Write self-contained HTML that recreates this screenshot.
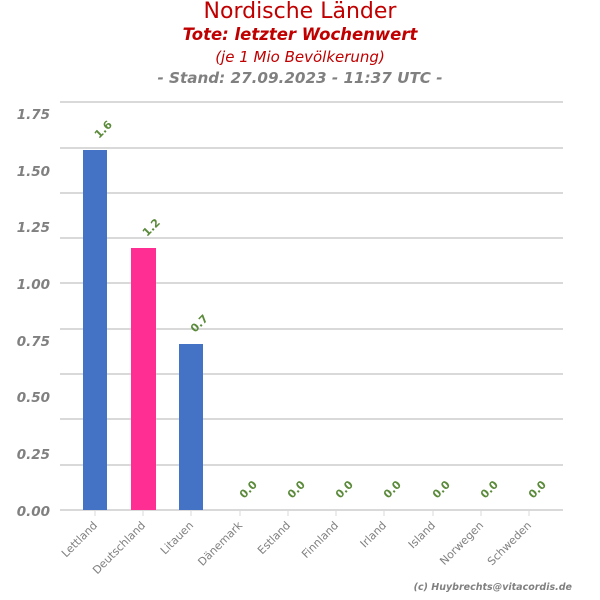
<!DOCTYPE html>
<html><head><meta charset="utf-8"><style>body{margin:0;background:#fff}svg{display:block}</style></head><body>
<svg width="600" height="600" xmlns="http://www.w3.org/2000/svg" font-family="DejaVu Sans, Liberation Sans, sans-serif">
<text x="300" y="18" text-anchor="middle" font-size="22" fill="#c00000">Nordische Länder</text>
<text x="300" y="40" text-anchor="middle" font-size="16.5" font-weight="bold" font-style="italic" fill="#c00000">Tote: letzter Wochenwert</text>
<text x="300" y="62" text-anchor="middle" font-size="15" font-style="italic" fill="#c00000">(je 1 Mio Bevölkerung)</text>
<text x="300" y="83" text-anchor="middle" font-size="15.2" font-weight="bold" font-style="italic" fill="#808080">- Stand: 27.09.2023 - 11:37 UTC -</text>
<g stroke="#d9d9d9" stroke-width="2">
<line x1="60" x2="563" y1="102" y2="102"/><line x1="60" x2="563" y1="148" y2="148"/><line x1="60" x2="563" y1="193" y2="193"/><line x1="60" x2="563" y1="238" y2="238"/><line x1="60" x2="563" y1="283" y2="283"/><line x1="60" x2="563" y1="329" y2="329"/><line x1="60" x2="563" y1="374" y2="374"/><line x1="60" x2="563" y1="419" y2="419"/><line x1="60" x2="563" y1="465" y2="465"/><line x1="60" x2="563" y1="510" y2="510"/>
</g>
<g font-size="13.5" font-weight="bold" font-style="italic" fill="#808080" text-anchor="end">
<text x="50" y="119">1.75</text><text x="50" y="176">1.50</text><text x="50" y="232">1.25</text><text x="50" y="289">1.00</text><text x="50" y="346">0.75</text><text x="50" y="402">0.50</text><text x="50" y="459">0.25</text><text x="50" y="516">0.00</text>
</g>
<rect x="83" y="150" width="24" height="360" fill="#4472c4"/>
<rect x="131" y="248" width="25" height="262" fill="#ff2e93"/>
<rect x="179" y="344" width="24" height="166" fill="#4472c4"/>
<g stroke="#d9d9d9" stroke-width="1">
<line x1="95" x2="95" y1="510" y2="516"/><line x1="143" x2="143" y1="510" y2="516"/><line x1="191" x2="191" y1="510" y2="516"/><line x1="240" x2="240" y1="510" y2="516"/><line x1="288" x2="288" y1="510" y2="516"/><line x1="336" x2="336" y1="510" y2="516"/><line x1="384" x2="384" y1="510" y2="516"/><line x1="433" x2="433" y1="510" y2="516"/><line x1="481" x2="481" y1="510" y2="516"/><line x1="529" x2="529" y1="510" y2="516"/>
</g>
<g font-size="11" font-weight="bold" fill="#5a8a3a">
<text transform="translate(99,139) rotate(-45)">1.6</text>
<text transform="translate(147,237) rotate(-45)">1.2</text>
<text transform="translate(195,333) rotate(-45)">0.7</text>
<text transform="translate(244,499) rotate(-45)">0.0</text>
<text transform="translate(292,499) rotate(-45)">0.0</text>
<text transform="translate(340,499) rotate(-45)">0.0</text>
<text transform="translate(388,499) rotate(-45)">0.0</text>
<text transform="translate(437,499) rotate(-45)">0.0</text>
<text transform="translate(485,499) rotate(-45)">0.0</text>
<text transform="translate(533,499) rotate(-45)">0.0</text>
</g>
<g font-size="11" fill="#808080" text-anchor="end">
<text transform="translate(98,526) rotate(-45)">Lettland</text>
<text transform="translate(146,526) rotate(-45)">Deutschland</text>
<text transform="translate(194,526) rotate(-45)">Litauen</text>
<text transform="translate(243,526) rotate(-45)">Dänemark</text>
<text transform="translate(291,526) rotate(-45)">Estland</text>
<text transform="translate(339,526) rotate(-45)">Finnland</text>
<text transform="translate(387,526) rotate(-45)">Irland</text>
<text transform="translate(436,526) rotate(-45)">Island</text>
<text transform="translate(484,526) rotate(-45)">Norwegen</text>
<text transform="translate(532,526) rotate(-45)">Schweden</text>
</g>
<text x="572" y="590" text-anchor="end" font-size="9.5" font-weight="bold" font-style="italic" fill="#808080">(c) Huybrechts@vitacordis.de</text>
</svg>
</body></html>
